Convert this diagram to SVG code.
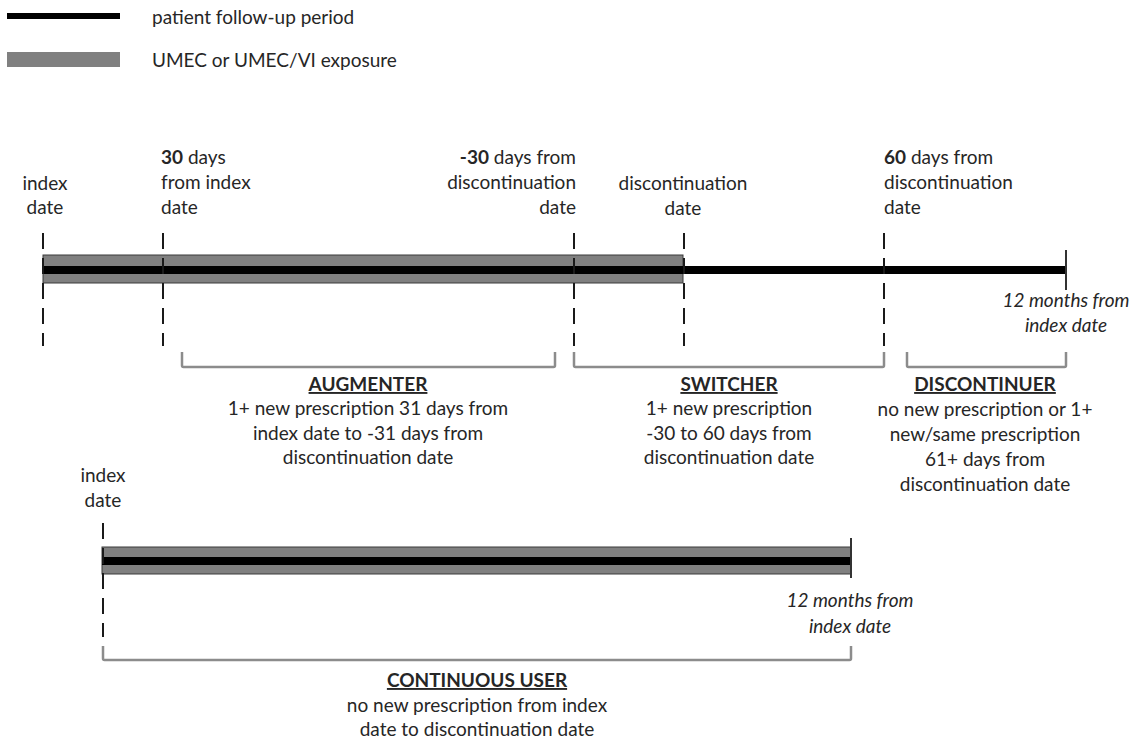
<svg xmlns="http://www.w3.org/2000/svg" width="1141" height="740" viewBox="0 0 1141 740">
<style>
text{font-family:Lato,"Open Sans","Liberation Sans",sans-serif;font-size:19px;fill:#262626}
.b{font-weight:bold}
.u{font-weight:bold;text-decoration:underline}
.i{font-style:italic}
.m{text-anchor:middle}
.e{text-anchor:end}
.exp{fill:#808080;stroke:#3a3a3a;stroke-width:1}
.fu{stroke:#000;stroke-width:8;fill:none}
.dash{stroke:#1a1a1a;stroke-width:2;stroke-dasharray:16 9;fill:none}
.tick{stroke:#333;stroke-width:2;fill:none}
.br{stroke:#8c8c8c;stroke-width:2.5;fill:none;stroke-linejoin:round}
</style>
<rect width="1141" height="740" fill="#fff"/>
<g id="legend">
<rect x="7" y="13" width="113" height="6" fill="#000"/>
<text x="152" y="24">patient follow-up period</text>
<rect x="7" y="52" width="113" height="15" fill="#808080"/>
<text x="152" y="67">UMEC or UMEC/VI exposure</text>
</g>
<g id="timeline-main">
<rect class="exp" x="43" y="255" width="640" height="28"/>
<line class="fu" x1="43" y1="270" x2="1066" y2="270"/>
<line class="tick" x1="1066" y1="250" x2="1066" y2="290"/>
<line class="dash" x1="43" y1="233" x2="43" y2="346"/>
<line class="dash" x1="163" y1="233" x2="163" y2="346"/>
<line class="dash" x1="574" y1="233" x2="574" y2="346"/>
<line class="dash" x1="684" y1="233" x2="684" y2="346"/>
<line class="dash" x1="884" y1="233" x2="884" y2="346"/>
</g>
<g id="main-labels">
<text class="m" x="45" y="190">index</text>
<text class="m" x="45" y="214">date</text>
<text x="161" y="164"><tspan class="b">30</tspan> days</text>
<text x="161" y="189">from index</text>
<text x="161" y="214">date</text>
<text class="e" x="576" y="164"><tspan class="b">-30</tspan> days from</text>
<text class="e" x="576" y="189">discontinuation</text>
<text class="e" x="576" y="214">date</text>
<text class="m" x="683" y="190">discontinuation</text>
<text class="m" x="683" y="215">date</text>
<text x="884" y="164"><tspan class="b">60</tspan> days from</text>
<text x="884" y="189">discontinuation</text>
<text x="884" y="214">date</text>
<text class="m i" x="1066" y="307">12 months from</text>
<text class="m i" x="1066" y="332">index date</text>
</g>
<g id="connectors">
<path class="br" d="M182 352 V365.5 Q182 367 183.5 367 H553.5 Q555 367 555 365.5 V352"/>
<path class="br" d="M574 352 V365.5 Q574 367 575.5 367 H882.5 Q884 367 884 365.5 V352"/>
<path class="br" d="M907 352 V365.5 Q907 367 908.5 367 H1064.5 Q1066 367 1066 365.5 V352"/>
<path class="br" d="M103 646 V658.5 Q103 660 104.5 660 H849.5 Q851 660 851 658.5 V646"/>
</g>
<g id="augmenter">
<text class="m u" x="368" y="391">AUGMENTER</text>
<text class="m" x="368" y="415">1+ new prescription 31 days from</text>
<text class="m" x="368" y="440">index date to -31 days from</text>
<text class="m" x="368" y="464">discontinuation date</text>
</g>
<g id="switcher">
<text class="m u" x="729" y="391">SWITCHER</text>
<text class="m" x="729" y="415">1+ new prescription</text>
<text class="m" x="729" y="440">-30 to 60 days from</text>
<text class="m" x="729" y="464">discontinuation date</text>
</g>
<g id="discontinuer">
<text class="m u" x="985" y="391">DISCONTINUER</text>
<text class="m" x="985" y="416">no new prescription or 1+</text>
<text class="m" x="985" y="441">new/same prescription</text>
<text class="m" x="985" y="466">61+ days from</text>
<text class="m" x="985" y="491">discontinuation date</text>
</g>
<g id="timeline-continuous">
<rect class="exp" x="102" y="547" width="749" height="27"/>
<line class="fu" x1="102" y1="561" x2="851" y2="561"/>
<line class="tick" x1="851" y1="538" x2="851" y2="578"/>
<line class="dash" x1="103" y1="523" x2="103" y2="637"/>
<text class="m" x="103" y="482">index</text>
<text class="m" x="103" y="507">date</text>
<text class="m i" x="850" y="607">12 months from</text>
<text class="m i" x="850" y="633">index date</text>
</g>
<g id="continuous-user">
<text class="m u" x="477" y="687">CONTINUOUS USER</text>
<text class="m" x="477" y="712">no new prescription from index</text>
<text class="m" x="477" y="736">date to discontinuation date</text>
</g>
</svg>
